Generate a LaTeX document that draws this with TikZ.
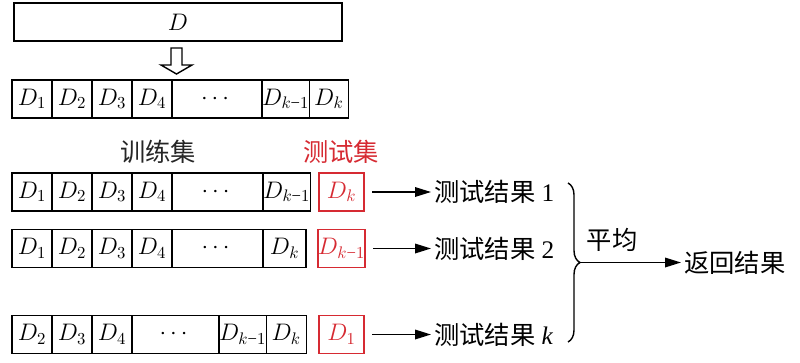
\RequirePackage{fix-cm}
\documentclass[tikz,border=0pt]{standalone}
\usepackage{amsmath}
\usepackage{fontspec}
\setmainfont{Liberation Serif}
\newfontfamily\cjk{Noto Sans CJK SC}
\usepackage{xcolor}
\usepackage{tikz}
\usetikzlibrary{positioning, calc, arrows.meta}
\usetikzlibrary{decorations.pathreplacing}

\definecolor{testred}{RGB}{214,42,50}

\tikzset{
  cell/.style={draw, line width=1pt, minimum width=1cm, minimum height=0.95cm,
    inner sep=0pt, outer sep=0pt, font=\fontsize{17}{20}\selectfont},
  testcell/.style={cell, draw=testred, text=testred, minimum width=1.125cm},
  cjktext/.style={font=\fontsize{18}{21}\selectfont, inner sep=2pt},
  arr/.style={line width=1pt, -{Triangle[length=4mm, width=2.4mm]}},
}
\newcommand{\Dkm}{$D_{k\text{−}1}$}

\begin{document}
\begin{tikzpicture}[x=0.025cm, y=-0.025cm]
  \useasboundingbox (0,0) rectangle (800,362);
  %% the whole data set and its split into k folds
  \node[cell, minimum width=8.2cm] (D) at (178,22) {$D$};
  \draw[line width=1pt] (171,48) -- (182,48) -- (182,65) -- (192,65)
    -- (176.5,74) -- (161,65) -- (171,65) -- cycle;
  \node[cell, anchor=west] (a1) at (12,99) {$D_1$};
  \foreach \i in {2,3,4} {
    \pgfmathtruncatemacro{\p}{\i-1}
    \node[cell, right=0pt of a\p] (a\i) {$D_{\i}$};
  }
  \node[cell, minimum width=2.25cm, right=0pt of a4] (a5) {$\cdots$};
  \node[cell, minimum width=1.05cm, right=0pt of a5] (a6) {\Dkm};
  \node[cell, minimum width=0.975cm, right=0pt of a6] (a7) {$D_k$};
  %% headings
  \node[cjktext, text=black!85] (train) at (158,152) {\cjk 训练集};
  \node[cjktext, text=testred] (test) at (341,152) {\cjk 测试集};
  %% round 1
  \node[cell, anchor=west] (b1) at (12,192) {$D_1$};
  \foreach \i in {2,3,4} {
    \pgfmathtruncatemacro{\p}{\i-1}
    \node[cell, right=0pt of b\p] (b\i) {$D_{\i}$};
  }
  \node[cell, minimum width=2.275cm, right=0pt of b4] (b5) {$\cdots$};
  \node[cell, minimum width=1.075cm, right=0pt of b5] (b6) {\Dkm};
  \node[testcell] (t1) at (341.5,192) {$D_k$};
  %% round 2
  \node[cell, anchor=west] (c1) at (12,248.5) {$D_1$};
  \foreach \i in {2,3,4} {
    \pgfmathtruncatemacro{\p}{\i-1}
    \node[cell, right=0pt of c\p] (c\i) {$D_{\i}$};
  }
  \node[cell, minimum width=2.275cm, right=0pt of c4] (c5) {$\cdots$};
  \node[cell, minimum width=1.075cm, right=0pt of c5] (c6) {$D_k$};
  \node[testcell] (t2) at (341.5,248.5) {\Dkm};
  %% round k
  \node[cell, anchor=west] (d2) at (12,334.5) {$D_2$};
  \node[cell, right=0pt of d2] (d3) {$D_3$};
  \node[cell, right=0pt of d3] (d4) {$D_4$};
  \node[cell, minimum width=2.175cm, right=0pt of d4] (d5) {$\cdots$};
  \node[cell, minimum width=1.1cm, right=0pt of d5] (d6) {\Dkm};
  \node[cell, right=0pt of d6] (d7) {$D_k$};
  \node[testcell] (t3) at (341.5,334.5) {$D_1$};
  %% results
  \node[cjktext, anchor=west] (r1) at (431,192) {{\cjk 测试结果}~1};
  \node[cjktext, anchor=west] (r2) at (431,248.5) {{\cjk 测试结果}~2};
  \node[cjktext, anchor=west] (r3) at (431,334.5) {{\cjk 测试结果}~\textit{k}};
  \draw[arr] ([xshift=0.2cm]t1.east) -- (r1.west);
  \draw[arr] ([xshift=0.2cm]t2.east) -- (r2.west);
  \draw[arr] ([xshift=0.2cm]t3.east) -- (r3.west);
  %% averaging
  \coordinate (btop) at (568,183);
  \coordinate (bbot) at (568,342);
  \coordinate (btip) at (580,262.5);
  \draw[line width=1pt, decorate, decoration={brace, amplitude=0.3cm}] (btop) -- (bbot);
  \node[cjktext] (avg) at (612,240) {\cjk 平均};
  \node[cjktext, anchor=west] (ret) at (681,262.5) {\cjk 返回结果};
  \draw[arr] (btip) -- (ret.west);
\end{tikzpicture}
\end{document}
